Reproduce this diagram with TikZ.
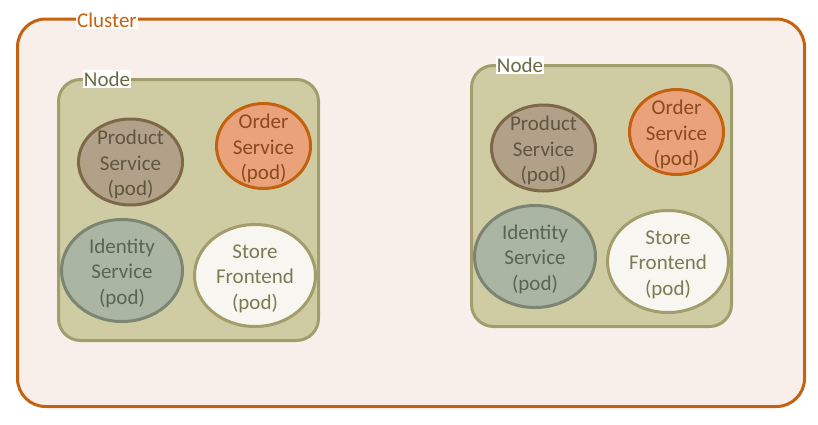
\documentclass[tikz,border=0pt]{standalone}
\usepackage{fontspec}
\setmainfont{Carlito}
\usetikzlibrary{shapes.geometric}

\definecolor{clusterline}{HTML}{C4620F}
\definecolor{clusterfill}{HTML}{F9EFEA}
\definecolor{hostline}{HTML}{A29D6C}
\definecolor{hostfill}{HTML}{CFCBA3}
\definecolor{hosttext}{HTML}{6B6A48}
\definecolor{prodfill}{HTML}{B2A189}
\definecolor{prodline}{HTML}{7D6847}
\definecolor{prodtext}{HTML}{5F5641}
\definecolor{orderfill}{HTML}{EAA27A}
\definecolor{orderline}{HTML}{C3620E}
\definecolor{ordertext}{HTML}{8A4A1C}
\definecolor{identfill}{HTML}{ABB5A3}
\definecolor{identline}{HTML}{7B8571}
\definecolor{identtext}{HTML}{5A6452}
\definecolor{storefill}{HTML}{F7F6F1}
\definecolor{storeline}{HTML}{A39D6B}
\definecolor{storetext}{HTML}{7C7A52}

\begin{document}
\begin{tikzpicture}[x=1pt, y=-1pt,
    every node/.style={font=\fontsize{21}{25.5}\selectfont, align=center},
    clusterbox/.style={draw=clusterline, fill=clusterfill, line width=3pt,
        rounded corners=28pt, anchor=north west, inner sep=0pt},
    hostbox/.style={draw=hostline, fill=hostfill, line width=3pt,
        rounded corners=22pt, anchor=north west, inner sep=0pt,
        minimum width=260pt, minimum height=261pt},
    tagbox/.style={fill=white, inner xsep=1pt, inner ysep=2pt},
    pod/.style={ellipse, line width=3pt, inner xsep=0pt, inner ysep=-12pt,
        text height=67pt, text depth=0pt}]
    \useasboundingbox (0,0) rectangle (818,424);

    % Cluster
    \node[clusterbox, minimum width=787pt, minimum height=387.5pt] (cluster) at (16,17.5) {};
    \node[tagbox, text=clusterline] (clustertag) at (107,20) {Cluster};

    % Nodes with their pods
    \foreach \n/\dx/\dy in {left/0/0, right/413/-14} {
        \begin{scope}[shift={(\dx,\dy)}]
            \node[hostbox] (\n-host) at (57,78) {};
            \node[tagbox, text=hosttext] (\n-tag) at (107,79) {Node};

            \node[pod, draw=prodline, fill=prodfill, text=prodtext,
                minimum width=104pt, minimum height=86pt] (\n-product) at (130.5,162) {Product\\Service\\(pod)};
            \node[pod, draw=orderline, fill=orderfill, text=ordertext,
                minimum width=94pt, minimum height=85pt] (\n-order) at (263.5,146) {Order\\Service\\(pod)};
            \node[pod, draw=identline, fill=identfill, text=identtext,
                minimum width=121pt, minimum height=102pt] (\n-identity) at (122,270.5) {Identity\\Service\\(pod)};
            \node[pod, draw=storeline, fill=storefill, text=storetext,
                minimum width=121pt, minimum height=102pt] (\n-store) at (255,275.5) {Store\\Frontend\\(pod)};
        \end{scope}
    }
\end{tikzpicture}
\end{document}
